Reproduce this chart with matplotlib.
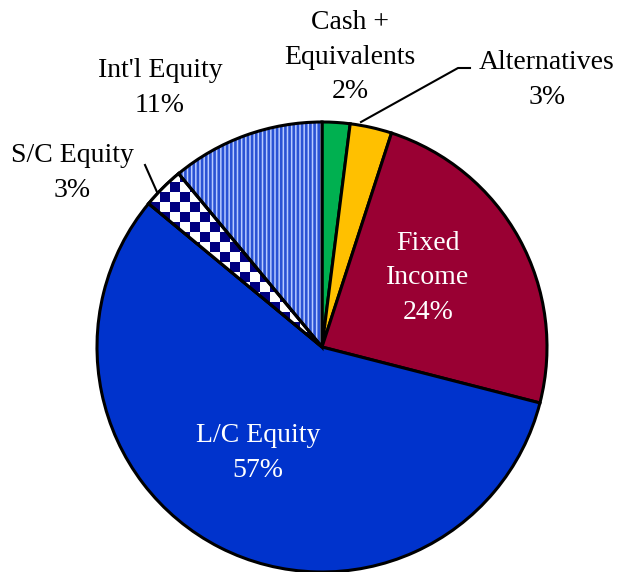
import numpy as np
import matplotlib
matplotlib.use("Agg")
from matplotlib import pyplot as plt
from matplotlib.patches import Wedge

# data
labels = ["Cash +\nEquivalents", "Alternatives", "Fixed\nIncome", "L/C Equity", "S/C Equity", "Int'l Equity"]
values = [2, 3, 24, 57, 3, 11]
colors = ["#00b050", "#ffc000", "#990033", "#0033cc", "#ffffff", "#b8caff"]

plt.rcParams["font.family"] = ["Liberation Serif", "DejaVu Serif"]
plt.rcParams["hatch.linewidth"] = 1.9

fig = plt.figure(figsize=(6.27, 5.72), dpi=100)
ax = fig.add_axes([0, 0, 1, 1])

cx, cy, r = 322, 225, 225
wedges, _ = ax.pie(values, colors=colors, startangle=90, counterclock=False,
                   center=(cx, cy), radius=r, frame=True,
                   wedgeprops=dict(edgecolor="black", linewidth=2.2))

# Int'l equity: vertical stripes, black border drawn on top
w5 = wedges[5]
w5.set_hatch("||||")
w5.set_edgecolor("#2a52d4")
w5.set_linewidth(0)
ax.add_patch(Wedge((cx, cy), r, w5.theta1, w5.theta2, facecolor="none",
                   edgecolor="black", linewidth=2.2, zorder=5))

# S/C equity: checkerboard
sq = 10
nx, ny = 627 // sq + 1, 572 // sq + 1
checker = (np.add.outer(np.arange(ny), np.arange(nx)) % 2).astype(float)
im = ax.imshow(checker, cmap=matplotlib.colors.ListedColormap(["white", "#000080"]),
               extent=(0, nx * sq, 0, ny * sq), origin="lower", interpolation="nearest", zorder=2)
im.set_clip_path(wedges[4])
w4 = wedges[4]
ax.add_patch(Wedge((cx, cy), r, w4.theta1, w4.theta2, facecolor="none",
                   edgecolor="black", linewidth=2.2, zorder=5))

ax.set_xlim(0, 627)
ax.set_ylim(0, 572)
ax.set_aspect("equal")
ax.axis("off")

fs = 20
def lab(x, y, txt, color="black"):
    ax.text(x, 572 - y, txt, ha="center", va="center", fontsize=fs, color=color,
            linespacing=1.5, zorder=6)

lab(350, 57, labels[0] + "\n2%")
lab(547, 80, labels[1] + "\n3%")
lab(428, 278, labels[2] + "\n24%", color="white")
lab(258, 453, labels[3] + "\n57%", color="white")
lab(72, 173, labels[4] + "\n3%")
lab(160, 88, labels[5] + "\n11%")

# leader lines
ax.plot([361, 458, 470], [572 - 122, 572 - 68, 572 - 68], color="black", lw=1.5, zorder=6)
ax.plot([145, 157], [572 - 165, 572 - 192], color="black", lw=1.5, zorder=6)

fig.savefig("out.png", dpi=100)
